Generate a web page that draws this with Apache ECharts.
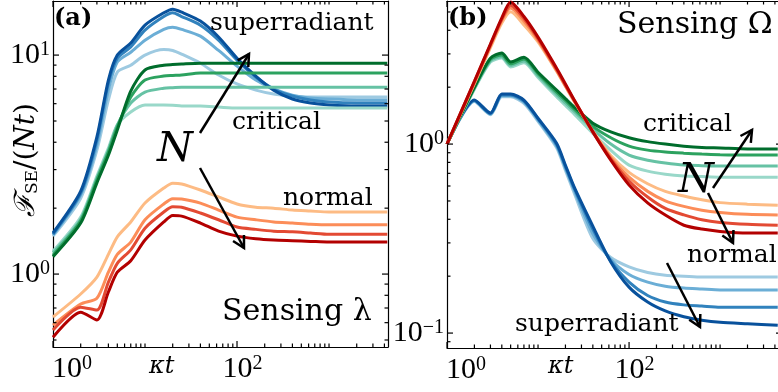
<!DOCTYPE html>
<html>
<head>
<meta charset="utf-8">
<script src="https://cdn.jsdelivr.net/npm/echarts@6/dist/echarts.min.js"></script>
<style>
  html, body { margin: 0; padding: 0; background: #fff; }
  #chart { width: 778px; height: 392px; }
</style>
</head>
<body>
<div id="chart"></div>
<script>
// kappa*t sample points (shared by every curve)
const kappaT = [1, 2, 3, 4, 5, 7, 10, 16, 20, 25, 40, 63, 100, 160, 250, 400, 630, 1000, 2000, 4300];

// (a) sensing lambda, each group ordered small N -> large N
const lambdaSuper = [
  [1.49, 2.22, 3.68, 6.24, 8.36, 8.99, 10.0, 10.6, 10.5, 10.1, 9.18, 8.11, 7.38, 6.92, 6.64, 6.50, 6.43, 6.43, 6.43, 6.43],
  [1.51, 2.30, 3.88, 6.92, 9.29, 10.3, 11.7, 13.1, 13.4, 13.1, 12.2, 10.5, 8.91, 7.69, 7.00, 6.56, 6.37, 6.30, 6.24, 6.24],
  [1.52, 2.34, 4.09, 7.45, 9.68, 10.9, 13.0, 15.0, 15.6, 15.0, 13.7, 11.7, 9.48, 7.94, 7.00, 6.50, 6.24, 6.10, 6.04, 6.04],
  [1.54, 2.39, 4.23, 7.69, 10.0, 11.35, 13.7, 15.6, 16.2, 15.7, 14.3, 12.1, 9.68, 8.02, 6.92, 6.30, 6.04, 5.92, 5.85, 5.85]
];
const lambdaCritical = [
  [1.27, 1.82, 2.80, 3.76, 4.80, 5.50, 5.92, 5.92, 5.90, 5.85, 5.85, 5.79, 5.73, 5.73, 5.73, 5.73, 5.73, 5.73, 5.73, 5.73],
  [1.25, 1.78, 2.74, 3.68, 4.79, 6.04, 6.78, 7.06, 7.10, 7.14, 7.14, 7.14, 7.14, 7.14, 7.14, 7.14, 7.14, 7.14, 7.14, 7.14],
  [1.22, 1.75, 2.69, 3.61, 4.69, 6.43, 7.69, 8.02, 8.07, 8.11, 8.28, 8.28, 8.28, 8.28, 8.28, 8.28, 8.28, 8.28, 8.28, 8.28],
  [1.20, 1.71, 2.61, 3.49, 4.55, 6.85, 8.55, 8.99, 9.05, 9.10, 9.18, 9.18, 9.18, 9.18, 9.18, 9.18, 9.18, 9.18, 9.18, 9.18]
];
const lambdaNormal = [
  [0.637, 0.811, 0.968, 1.23, 1.48, 1.73, 2.11, 2.47, 2.60, 2.58, 2.42, 2.25, 2.09, 2.02, 2.00, 1.96, 1.94, 1.92, 1.92, 1.92],
  [0.585, 0.730, 0.776, 1.02, 1.23, 1.40, 1.77, 2.09, 2.21, 2.20, 2.11, 1.96, 1.82, 1.77, 1.73, 1.71, 1.69, 1.68, 1.68, 1.68],
  [0.555, 0.706, 0.685, 0.918, 1.12, 1.29, 1.62, 1.92, 2.03, 2.02, 1.90, 1.77, 1.64, 1.60, 1.57, 1.56, 1.54, 1.52, 1.52, 1.52],
  [0.515, 0.670, 0.617, 0.828, 1.02, 1.15, 1.43, 1.73, 1.85, 1.84, 1.71, 1.57, 1.49, 1.45, 1.43, 1.42, 1.41, 1.40, 1.40, 1.40]
];

// (b) sensing Omega
const omegaSuper = [
  [1.00, 1.68, 1.43, 1.78, 1.78, 1.64, 1.32, 0.955, 0.725, 0.550, 0.316, 0.251, 0.224, 0.209, 0.202, 0.200, 0.198, 0.198, 0.198, 0.198],
  [1.00, 1.69, 1.44, 1.80, 1.80, 1.67, 1.34, 0.977, 0.746, 0.569, 0.335, 0.245, 0.204, 0.186, 0.177, 0.173, 0.171, 0.169, 0.169, 0.169],
  [1.00, 1.70, 1.45, 1.82, 1.82, 1.69, 1.36, 0.993, 0.760, 0.582, 0.355, 0.240, 0.186, 0.158, 0.146, 0.141, 0.139, 0.137, 0.137, 0.137],
  [1.00, 1.71, 1.46, 1.84, 1.84, 1.71, 1.37, 1.01, 0.773, 0.592, 0.368, 0.238, 0.175, 0.146, 0.131, 0.122, 0.117, 0.114, 0.112, 0.110]
];
const omegaCritical = [
  [1.00, 1.95, 2.72, 2.85, 2.56, 2.69, 2.25, 1.78, 1.60, 1.44, 1.14, 0.929, 0.774, 0.719, 0.693, 0.678, 0.673, 0.668, 0.668, 0.668],
  [1.00, 1.97, 2.76, 2.90, 2.61, 2.75, 2.30, 1.83, 1.65, 1.49, 1.20, 1.00, 0.875, 0.822, 0.794, 0.774, 0.769, 0.766, 0.766, 0.766],
  [1.00, 1.99, 2.81, 2.96, 2.66, 2.82, 2.36, 1.88, 1.70, 1.53, 1.24, 1.08, 0.975, 0.929, 0.908, 0.895, 0.885, 0.879, 0.875, 0.875],
  [1.00, 2.00, 2.85, 3.03, 2.72, 2.88, 2.40, 1.93, 1.74, 1.57, 1.29, 1.16, 1.08, 1.03, 1.00, 0.975, 0.959, 0.953, 0.942, 0.942]
];
const omegaNormal = [
  [1.00, 2.09, 3.24, 4.37, 5.01, 4.27, 3.47, 2.43, 2.02, 1.68, 1.17, 0.871, 0.708, 0.617, 0.562, 0.531, 0.507, 0.490, 0.481, 0.475],
  [1.00, 2.11, 3.31, 4.52, 5.25, 4.47, 3.55, 2.45, 2.03, 1.69, 1.16, 0.851, 0.668, 0.562, 0.501, 0.468, 0.447, 0.435, 0.425, 0.421],
  [1.00, 2.14, 3.35, 4.57, 5.43, 4.62, 3.61, 2.48, 2.05, 1.70, 1.16, 0.836, 0.638, 0.525, 0.457, 0.422, 0.398, 0.385, 0.376, 0.372],
  [1.00, 2.15, 3.38, 4.65, 5.64, 4.73, 3.68, 2.52, 2.08, 1.71, 1.16, 0.822, 0.607, 0.488, 0.421, 0.372, 0.355, 0.345, 0.338, 0.338]
];

// axis ranges in log10 units and labelled decades
const xRangeA = [0, 3.641];
const yRangeA = [-0.333, 1.247];
const xRangeB = [0, 3.68];
const yRangeB = [-1.079, 0.757];
const xMajorA = [0, 2];
const yMajorA = [0, 1];
const xMajorB = [0, 2];
const yMajorB = [-1, 0];

const blues = ['#9ecae1', '#6baed6', '#3182bd', '#08519c'];
const greens = ['#99d8c9', '#66c2a4', '#2ca25f', '#006d2c'];
const reds = ['#fdbb84', '#fc8d59', '#e34a33', '#b30000'];

const TICK_FONT = 'Liberation Serif';
const TEXT_FONT = 'DejaVu Serif';

function decadeTicks(lo, hi) {
  const out = [];
  for (let n = Math.floor(lo); n <= Math.ceil(hi); n++) {
    for (let k = 1; k <= 9; k++) {
      const v = n + Math.log10(k);
      if (v >= lo - 1e-9 && v <= hi + 1e-9) out.push(v);
    }
  }
  return out;
}

function expText(v) {
  const e = Math.round(v);
  return e < 0 ? '\u2212' + (-e) : String(e);
}

const labelRich = {
  b: { fontFamily: TICK_FONT, fontSize: 30, lineHeight: 30, color: '#000' },
  p0: { fontFamily: TICK_FONT, fontSize: 30, lineHeight: 30, color: '#000', padding: [0, 0, 0, 38] },
  p2: { fontFamily: TICK_FONT, fontSize: 30, lineHeight: 30, color: '#000', padding: [0, 0, 0, 11] },
  s: { fontFamily: TICK_FONT, fontSize: 20, lineHeight: 20, color: '#000', verticalAlign: 'top' }
};

// one labelled axis plus a bare mirror axis (top / right)
function axisPair(dim, grid, range, majors) {
  const sides = dim === 'x' ? ['bottom', 'top'] : ['left', 'right'];
  return sides.map((pos, i) => ({
    type: 'value', gridIndex: grid, position: pos, min: range[0], max: range[1],
    splitLine: { show: false }, silent: true,
    axisLine: { show: true, onZero: false, lineStyle: { color: '#000', width: 1.2 } },
    axisTick: { show: false },
    axisLabel: i > 0 ? { show: false } : {
      show: true, customValues: majors, margin: dim === 'x' ? 7 : 3, rich: labelRich,
      formatter: dim === 'x'
        ? v => '{p' + Math.round(v) + '|10}{s|' + expText(v) + '}'
        : v => '{b|10}{s|' + expText(v) + '}'
    }
  }));
}

function lineSeries(group, colors, axisIdx) {
  return group.map((vals, i) => ({
    type: 'line', xAxisIndex: axisIdx, yAxisIndex: axisIdx,
    data: kappaT.map((t, j) => [Math.log10(t), Math.log10(vals[j])]),
    symbol: 'none', smooth: 0.25, clip: true, silent: true,
    lineStyle: { color: colors[i], width: 3 },
    emphasis: { disabled: true }
  }));
}

function arrow(x1, y1, x2, y2) {
  const a = Math.atan2(y2 - y1, x2 - x1), h = 13, w = 0.5;
  const p1 = [x2 - h * Math.cos(a - w), y2 - h * Math.sin(a - w)];
  const p2 = [x2 - h * Math.cos(a + w), y2 - h * Math.sin(a + w)];
  return [
    { type: 'line', z: 100, shape: { x1, y1, x2, y2 }, style: { stroke: '#000', lineWidth: 2.5 } },
    { type: 'polyline', z: 100, shape: { points: [p1, [x2, y2], p2] }, style: { stroke: '#000', lineWidth: 2.5, fill: null } }
  ];
}

function label(text, x, y, font) {
  return {
    type: 'text', z: 100, x, y,
    style: { text, font, fill: '#000', align: 'left', verticalAlign: 'middle', textAlign: 'left', textVerticalAlign: 'middle' }
  };
}

const chart = echarts.init(document.getElementById('chart'), null, { renderer: 'canvas' });

chart.setOption({
  animation: false,
  backgroundColor: '#fff',
  grid: [
    { left: 53, top: 1, width: 335, height: 346, containLabel: false, outerBoundsMode: 'none' },
    { left: 447, top: 1, width: 335, height: 347, containLabel: false, outerBoundsMode: 'none' }
  ],
  xAxis: [...axisPair('x', 0, xRangeA, xMajorA), ...axisPair('x', 1, xRangeB, xMajorB)],
  yAxis: [...axisPair('y', 0, yRangeA, yMajorA), ...axisPair('y', 1, yRangeB, yMajorB)],
  series: [
    ...lineSeries(lambdaSuper, blues, 0),
    ...lineSeries(lambdaCritical, greens, 0),
    ...lineSeries(lambdaNormal, reds, 0),
    ...lineSeries(omegaSuper, blues, 2),
    ...lineSeries(omegaCritical, greens, 2),
    ...lineSeries(omegaNormal, reds, 2)
  ]
});

// inward log ticks on all four sides, placed through the axes' own scales
function frameTicks(axisIdx, xRange, yRange, xMajors, yMajors) {
  const finder = { xAxisIndex: axisIdx, yAxisIndex: axisIdx };
  const px = p => chart.convertToPixel(finder, p);
  const isMajor = (v, majors) => majors.some(m => Math.abs(m - v) < 1e-6);
  const seg = (x1, y1, x2, y2) => ({ type: 'line', z: 90, silent: true, shape: { x1, y1, x2, y2 }, style: { stroke: '#000', lineWidth: 1.2 } });
  const out = [];
  decadeTicks(xRange[0], xRange[1]).forEach(v => {
    const len = isMajor(v, xMajors) ? 6 : 3.5;
    const a = px([v, yRange[0]]), b = px([v, yRange[1]]);
    out.push(seg(a[0], a[1], a[0], a[1] - len), seg(b[0], b[1], b[0], b[1] + len));
  });
  decadeTicks(yRange[0], yRange[1]).forEach(v => {
    const len = isMajor(v, yMajors) ? 6 : 3.5;
    const a = px([xRange[0], v]), b = px([xRange[1], v]);
    out.push(seg(a[0], a[1], a[0] + len, a[1]), seg(b[0], b[1], b[0] - len, b[1]));
  });
  return out;
}

chart.setOption({
  graphic: [
    ...frameTicks(0, xRangeA, yRangeA, xMajorA, yMajorA),
    ...frameTicks(2, xRangeB, yRangeB, xMajorB, yMajorB),
    label('(a)', 54, 19, 'bold 24px "' + TEXT_FONT + '"'),
    label('superradiant', 210, 23, '25px "' + TEXT_FONT + '"'),
    label('critical', 232, 122, '25px "' + TEXT_FONT + '"'),
    label('N', 157, 150, 'italic 41px "' + TEXT_FONT + '"'),
    label('normal', 283, 198, '25px "' + TEXT_FONT + '"'),
    label('Sensing \u03bb', 222, 312, '30px "' + TEXT_FONT + '"'),
    label('(b)', 448, 19, 'bold 24px "' + TEXT_FONT + '"'),
    label('Sensing \u03a9', 617, 25, '30px "' + TEXT_FONT + '"'),
    label('critical', 643, 124, '25px "' + TEXT_FONT + '"'),
    label('N', 678, 181, 'italic 41px "' + TEXT_FONT + '"'),
    label('normal', 687, 255, '25px "' + TEXT_FONT + '"'),
    label('superradiant', 515, 324, '25px "' + TEXT_FONT + '"'),
    label('\u03bat', 149, 367, 'italic 24px "' + TEXT_FONT + '"'),
    label('\u03bat', 548, 367, 'italic 24px "' + TEXT_FONT + '"'),
    {
      type: 'text', z: 100, x: 27, y: 160, rotation: Math.PI / 2,
      style: {
        text: '{f|\u2131}{sub|SE}{n|/(}{i|Nt}{n|)}',
        align: 'center', verticalAlign: 'middle', textAlign: 'center', textVerticalAlign: 'middle',
        rich: {
          f: { fontFamily: TEXT_FONT, fontSize: 28, fontStyle: 'italic', color: '#000' },
          sub: { fontFamily: TEXT_FONT, fontSize: 17, color: '#000', verticalAlign: 'bottom', padding: [8, 0, 0, 0] },
          n: { fontFamily: TEXT_FONT, fontSize: 28, color: '#000' },
          i: { fontFamily: TEXT_FONT, fontSize: 28, fontStyle: 'italic', color: '#000' }
        }
      }
    },
    ...arrow(200, 133, 249, 54),
    ...arrow(200, 168, 244, 248),
    ...arrow(713, 188, 752, 130),
    ...arrow(708, 193, 733, 243),
    ...arrow(667, 263, 700, 327)
  ]
});
</script>
</body>
</html>
